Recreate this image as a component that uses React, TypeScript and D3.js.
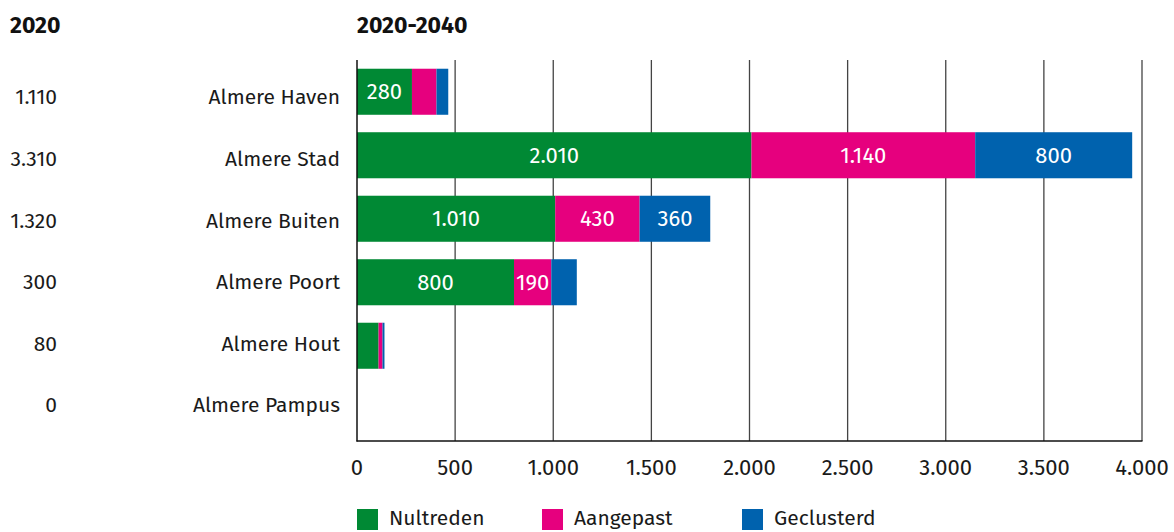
import React from "react";
import * as d3 from "d3";

const categories = ["Almere Haven", "Almere Stad", "Almere Buiten", "Almere Poort", "Almere Hout", "Almere Pampus"];
const values2020 = [1110, 3310, 1320, 300, 80, 0];
const nultreden = [280, 2010, 1010, 800, 110, 0];
const aangepast = [125, 1140, 430, 190, 20, 0];
const geclusterd = [60, 800, 360, 130, 10, 0];
const seriesNames = ["Nultreden", "Aangepast", "Geclusterd"];
const seriesColors = ["#008934", "#e6007e", "#0062ae"];
const xTicks = [0, 500, 1000, 1500, 2000, 2500, 3000, 3500, 4000];

const W = 1174;
const H = 532;
const FONT = "'Fira Sans', 'Noto Sans', 'Open Sans', sans-serif";

const locale = d3.formatLocale({ decimal: ",", thousands: ".", grouping: [3], currency: ["€", ""] });
const fmt = locale.format(",d");

export default function App() {
  const x = d3.scaleLinear().domain([0, 4000]).range([357, 1142]);
  const y = d3.scaleBand<string>().domain(categories).range([60, 441]).paddingInner(0.275).paddingOuter(0.1375);
  const yl = d3.scalePoint<string>().domain(categories).range([97, 405]);
  const series = [nultreden, aangepast, geclusterd];
  const rows = categories.map((c, i) => {
    const o: any = { cat: c };
    seriesNames.forEach((s, j) => (o[s] = series[j][i]));
    return o;
  });
  const stacked = d3.stack<any>().keys(seriesNames)(rows);

  return (
    <svg width={W} height={H} style={{ position: "absolute", left: 0, top: 0, fontFamily: FONT }}>
      <text x={10} y={33} fontSize={23} fontWeight={700} fill="#111">2020</text>
      <text x={357} y={33} fontSize={23} fontWeight={700} fill="#111">2020-2040</text>
      {xTicks.slice(1).map((t) => (
        <line key={t} x1={x(t)} x2={x(t)} y1={60} y2={441} stroke="#444" strokeWidth={1.3} />
      ))}
      {stacked.map((s, j) => (
        <g key={s.key}>
          {s.map((d, i) => {
            const w = x(d[1]) - x(d[0]);
            if (w <= 0) return null;
            return (
              <rect key={i} x={x(d[0])} y={y(categories[i])} width={w} height={y.bandwidth()} fill={seriesColors[j]} />
            );
          })}
        </g>
      ))}
      {stacked.map((s, j) => (
        <g key={s.key + "l"}>
          {s.map((d, i) => {
            const w = x(d[1]) - x(d[0]);
            if (w < 30) return null;
            return (
              <text key={i} x={(x(d[0]) + x(d[1])) / 2} y={(y(categories[i]) as number) + y.bandwidth() / 2} dy="0.35em"
                textAnchor="middle" fontSize={22} fill="#fff">{fmt(series[j][i])}</text>
            );
          })}
        </g>
      ))}
      <line x1={357} x2={357} y1={60} y2={441.5} stroke="#111" strokeWidth={1.5} />
      <line x1={356.5} x2={1142.5} y1={441} y2={441} stroke="#111" strokeWidth={1.3} />
      {xTicks.map((t) => (
        <text key={t} x={x(t)} y={475} textAnchor="middle" fontSize={22} fill="#1a1a1a">{fmt(t)}</text>
      ))}
      {categories.map((c, i) => (
        <g key={c}>
          <text x={340} y={yl(c)} dy="0.35em" textAnchor="end" fontSize={21} fill="#1a1a1a">{c}</text>
          <text x={57} y={yl(c)} dy="0.35em" textAnchor="end" fontSize={21} fill="#1a1a1a">{fmt(values2020[i])}</text>
        </g>
      ))}
      {seriesNames.map((s, j) => {
        const lx = [357, 542, 742][j];
        return (
          <g key={s}>
            <rect x={lx} y={509} width={21} height={21} fill={seriesColors[j]} />
            <text x={lx + 32} y={525} fontSize={21} fill="#1a1a1a">{s}</text>
          </g>
        );
      })}
    </svg>
  );
}
